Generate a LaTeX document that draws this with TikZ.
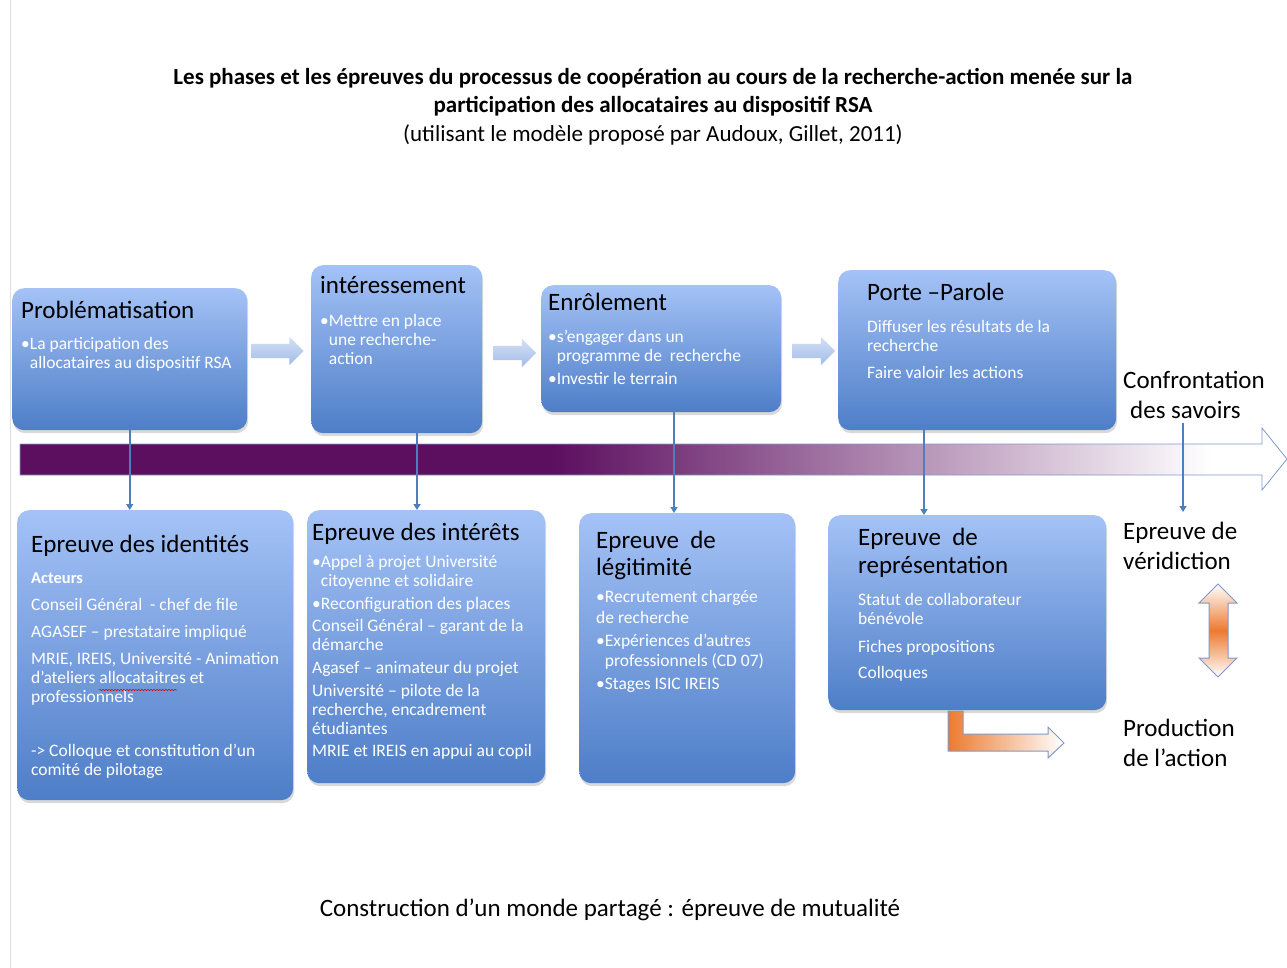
\documentclass[tikz,border=0pt]{standalone}
\usepackage{fontspec}
\setmainfont{Carlito}
\usetikzlibrary{positioning,shapes.arrows,shadows,arrows.meta,decorations.pathmorphing}

\definecolor{boxtop}{HTML}{A4C2F6}
\definecolor{boxbot}{HTML}{4E7EC8}
\definecolor{linkblue}{HTML}{4F7EBF}
\definecolor{plum}{HTML}{5C0E5F}
\definecolor{flowL}{HTML}{D3E0F6}
\definecolor{flowD}{HTML}{A2BCE8}
\definecolor{rim}{HTML}{7E9ACB}
\definecolor{tang}{HTML}{EC7A30}

\pgfdeclarehorizontalshading{fade}{100bp}{color(0bp)=(plum); color(46bp)=(plum); color(72bp)=(white); color(100bp)=(white)}

\tikzset{
  phase/.style={rectangle, rounded corners=12pt, top color=boxtop, bottom color=boxbot, inner sep=0pt, anchor=north west,
    drop shadow={opacity=0.3, shadow xshift=1pt, shadow yshift=-3pt}},
  phasehead/.style={anchor=base west, inner sep=0pt, font=\fontsize{25}{27}\selectfont},
  phasetext/.style={anchor=north west, inner sep=0pt, align=left, text=white, font=\fontsize{17.5}{19}\selectfont},
  sidelabel/.style={inner sep=0pt, align=left, anchor=north west, font=\fontsize{25}{30}\selectfont},
  flowarrow/.style={single arrow, single arrow head extend=7pt, inner sep=7pt, top color=flowL, bottom color=flowD},
  conn/.style={linkblue, line width=1.6pt, -{Triangle[width=7pt,length=6pt]}},
}

\begin{document}
\begin{tikzpicture}[x=1pt, y=-1pt]
  \useasboundingbox (0,0) rectangle (1287,968);
  \draw[gray!25, line width=1pt] (10,0) -- (10,968);

  % titre
  \node[anchor=base, font=\bfseries\fontsize{23}{28}\selectfont] (title1) at (653,85) {Les phases et les épreuves du processus de coopération au cours de la recherche-action menée sur la};
  \node[anchor=base, font=\bfseries\fontsize{23}{28}\selectfont] (title2) at (653,113) {participation des allocataires au dispositif RSA};
  \node[anchor=base, font=\fontsize{23}{28}\selectfont] (title3) at (653,142) {(utilisant le modèle proposé par Audoux, Gillet, 2011)};

  % phases
  \node[flowarrow, minimum height=52pt] (a12) at (274,351) {};
  \node[flowarrow, minimum height=43pt] (a23) at (511,353) {};
  \node[flowarrow, minimum height=43pt] (a34) at (810,351) {};

  \node[phase, minimum width=235pt, minimum height=142pt] (prob) at (12,288) {};
  \node[phase, minimum width=171pt, minimum height=168pt] (inter) at (311,265) {};
  \node[phase, minimum width=240pt, minimum height=127pt] (enrol) at (541,285) {};
  \node[phase, minimum width=278pt, minimum height=160pt] (porte) at (838,270) {};

  \node[phasehead] (probH) at (21,318) {Problématisation};
  \node[phasetext] (probT) at (21,337) {•La participation des\\\phantom{•}allocataires au dispositif RSA};
  \node[phasehead] (interH) at (320,294) {intéressement};
  \node[phasetext] (interT) at (320,314) {•Mettre en place\\\phantom{•}une recherche-\\\phantom{•}action};
  \node[phasehead] (enrolH) at (548,310) {Enrôlement};
  \node[phasetext] (enrolT) at (548,330) {•s’engager dans un\\\phantom{•}programme de~ recherche\\[4pt]•Investir le terrain};
  \node[phasehead] (porteH) at (867,300) {Porte –Parole};
  \node[phasetext] (porteT) at (867,320) {Diffuser les résultats de la\\recherche\\[8pt]Faire valoir les actions};

  % bande
  \shadedraw[shading=fade, draw=rim, line width=0.8pt]
    (20,444) -- (1262,444) -- (1262,428) -- (1287,459) -- (1262,490) -- (1262,475) -- (20,475) -- cycle;

  % epreuves
  \node[phase, minimum width=276pt, minimum height=290pt] (eid) at (17,510) {};
  \node[phase, minimum width=238pt, minimum height=273pt] (eint) at (307,510) {};
  \node[phase, minimum width=216pt, minimum height=270pt] (eleg) at (579,513) {};
  \node[phase, minimum width=278pt, minimum height=195pt] (erep) at (828,515) {};

  \node[phasehead] (eidH) at (31,552) {Epreuve des identités};
  \node[phasetext] (eidT) at (31,573) {{\bfseries\fontsize{16.5}{19}\selectfont Acteurs}\\[8pt]Conseil Général~ - chef de file\\[8pt]AGASEF – prestataire impliqué\\[8pt]MRIE, IREIS, Université - Animation\\d’ateliers allocataitres et\\professionnels\\[35pt]-> Colloque et constitution d’un\\comité de pilotage};
  \draw[red!85!black, line width=0.5pt, decorate, decoration={snake, amplitude=0.7pt, segment length=3pt}] (99,690) -- (177,690);
  \node[phasehead] (eintH) at (312,540) {Epreuve des intérêts};
  \node[phasetext] (eintT) at (312,555) {•Appel à projet Université\\\phantom{•}citoyenne et solidaire\\[4pt]•Reconfiguration des places\\[3pt]Conseil Général – garant de la\\démarche\\[4pt]Agasef – animateur du projet\\[4pt]Université – pilote de la\\recherche, encadrement\\étudiantes\\[3pt]MRIE et IREIS en appui au copil};
  \node[phasehead] (elegH) at (596,548) {Epreuve~ de};
  \node[phasehead] (elegH2) at (596,575) {légitimité};
  \node[phasetext] (elegT) at (596,590) {•Recrutement chargée\\[2pt]de recherche\\[4pt]•Expériences d’autres\\[1pt]\phantom{•}professionnels (CD 07)\\[4pt]•Stages ISIC IREIS};
  \node[phasehead] (erepH) at (858,545) {Epreuve~ de};
  \node[phasehead] (erepH2) at (858,573) {représentation};
  \node[phasetext] (erepT) at (858,593) {Statut de collaborateur\\bénévole\\[9pt]Fiches propositions\\[7pt]Colloques};

  % droite
  \node[sidelabel] (conf) at (1123,371) {Confrontation\\\hspace{7pt}des savoirs};
  \node[sidelabel] (verid) at (1123,522) {Epreuve de\\véridiction};
  \node[sidelabel] (prod) at (1123,719) {Production\\de l’action};

  \shadedraw[top color=white, bottom color=white, middle color=tang, draw=rim, line width=1pt]
    (1218,584) -- (1237,603) -- (1228,603) -- (1228,658) -- (1237,658) -- (1218,677)
    -- (1199,658) -- (1209,658) -- (1209,603) -- (1199,603) -- cycle;
  \shadedraw[left color=tang, right color=white, draw=rim, line width=1pt]
    (948,711) -- (963,711) -- (963,734) -- (1048,734) -- (1048,727) -- (1064,743)
    -- (1048,758) -- (1048,751) -- (948,751) -- cycle;

  % liens
  \coordinate (k2) at (417,0);
  \coordinate (k3) at (674,0);
  \coordinate (k4) at (924,0);
  \coordinate (k5) at (1183,0);
  \path[conn]
    (prob.south) edge (prob.south |- eid.north)
    (inter.south -| k2) edge (eint.north -| k2)
    (enrol.south -| k3) edge (eleg.north -| k3)
    (porte.south -| k4) edge (erep.north -| k4)
    (conf.south -| k5) edge[shorten <=4pt, shorten >=10pt] (verid.north -| k5);

  \node[anchor=base, font=\fontsize{25}{28}\selectfont] (mutual) at (610,916) {Construction d’un monde partagé : épreuve de mutualité};
\end{tikzpicture}
\end{document}
